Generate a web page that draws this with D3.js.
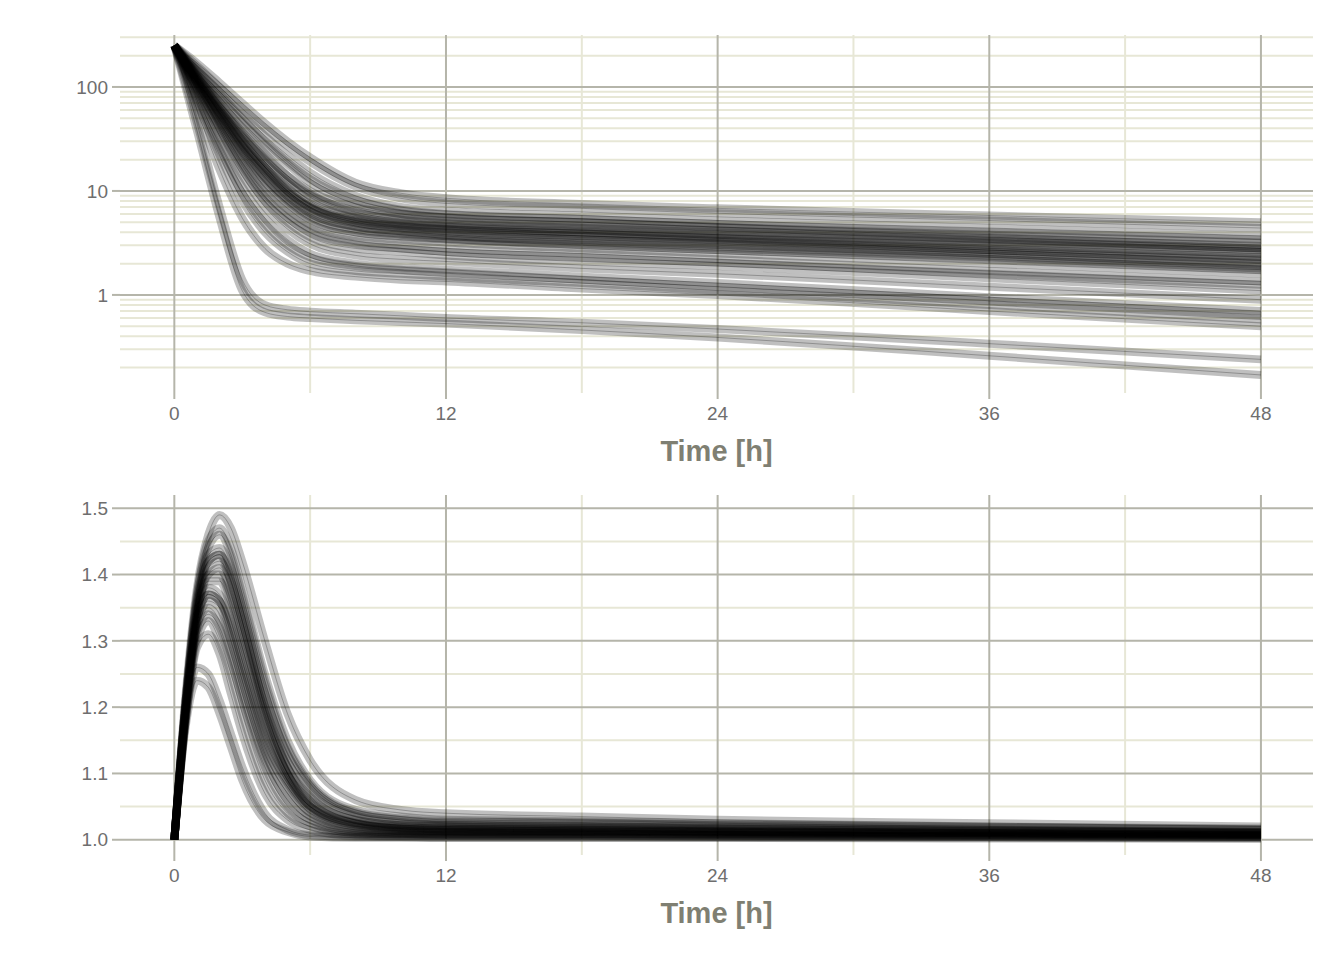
<!DOCTYPE html>
<html lang="en">
<head>
  <meta charset="UTF-8">
  <title>Time profiles</title>
  <script src="https://d3js.org/d3.v7.min.js"></script>
  <style>
    body { margin: 0; background: #fff; font-family: "Liberation Sans", Arial, sans-serif; }
    svg { display: block; }
    .tick-label { fill: #6e6e6e; font-size: 19px; }
    .axis-title { fill: #7f7f72; font-size: 29px; font-weight: bold; }
  </style>
</head>
<body>
<svg id="chart" width="1344" height="960"></svg>
<script>
  // sampling times, top panel (log scale)
  const timesTop = [0, 1, 2, 3, 4, 5, 6, 8, 10, 12, 18, 24, 36, 48];
  const concTop = [
    [250,170,110,70,45,30,21,12,9.5,8.5,7.5,6.8,5.8,5.0],
    [250,160,100,62,40,27,19,11,8.5,7.6,6.8,6.1,5.2,4.4],
    [250,150,90,55,34,22,15,9,7,6.4,5.8,5.2,4.4,3.7],
    [250,140,80,46,28,18,12,7.5,6,5.5,5,4.5,3.8,3.2],
    [250,135,72,40,23,14,9.5,6.3,5.3,4.9,4.4,4.0,3.3,2.8],
    [250,125,64,34,19,12,8,5.6,4.8,4.5,4.0,3.6,3.0,2.5],
    [250,120,60,30,17,10,7,5,4.4,4.1,3.7,3.3,2.7,2.2],
    [250,115,55,27,15,9,6.3,4.6,4.1,3.8,3.4,3.1,2.5,2.0],
    [250,110,50,24,13,8,5.6,4.2,3.8,3.5,3.1,2.8,2.3,1.8],
    [250,105,46,21,11,6.8,4.8,3.7,3.4,3.2,2.8,2.5,2.0,1.6],
    [250,100,42,19,9.5,6,4.3,3.3,3.0,2.8,2.5,2.2,1.7,1.35],
    [250,95,38,16,8,5,3.6,2.8,2.6,2.4,2.1,1.9,1.45,1.1],
    [250,90,34,14,7,4.3,3.1,2.4,2.2,2.1,1.8,1.6,1.2,0.9],
    [250,80,28,11,5.5,3.4,2.5,2.0,1.85,1.75,1.5,1.3,0.95,0.7],
    [250,70,22,8,4,2.6,2.0,1.7,1.6,1.5,1.3,1.1,0.8,0.58],
    [250,60,16,5.5,2.8,2,1.7,1.5,1.4,1.35,1.15,1.0,0.7,0.5],
    [250,130,68,37,22,14,10,7,6,5.6,5.0,4.5,3.6,2.9],
    [250,118,57,29,16,10,7,5.2,4.6,4.3,3.9,3.5,2.8,2.3],
    [250,108,48,23,12,7.5,5.3,4,3.6,3.4,3.0,2.7,2.2,1.75],
    [250,125,62,31,17,10.5,7.5,5.5,4.9,4.6,4.2,3.8,3.2,2.6],
    [250,112,52,25,13.5,8.4,6,4.5,4.0,3.7,3.3,3.0,2.4,1.9],
    [250,145,86,50,30,19,13,8.2,6.6,6.0,5.4,4.8,4.0,3.4],
    [250,38,5.5,1.1,0.68,0.62,0.6,0.57,0.55,0.53,0.46,0.39,0.26,0.17],
    [250,45,7,1.4,0.8,0.72,0.69,0.66,0.63,0.6,0.54,0.47,0.34,0.24],
    [250,75,25,9.5,4.8,3,2.3,1.9,1.75,1.65,1.4,1.2,0.88,0.64],
    [250,98,40,17.5,8.8,5.5,4,3.1,2.8,2.6,2.3,2.05,1.6,1.25],
    [250,128,66,35,20,12.5,9,6.2,5.4,5.0,4.5,4.1,3.4,2.8],
    [250,117,56,28,15.5,9.6,6.8,5.0,4.5,4.2,3.7,3.4,2.7,2.15]
  ];

  // sampling times, bottom panel (linear scale)
  const timesBottom = [0, 0.5, 1, 1.5, 2, 2.5, 3, 4, 5, 6, 8, 10, 12, 18, 24, 36, 48];
  const ratioBottom = [
    [1,1.22,1.38,1.46,1.49,1.47,1.42,1.30,1.19,1.12,1.06,1.045,1.04,1.035,1.03,1.025,1.02],
    [1,1.21,1.37,1.45,1.47,1.44,1.38,1.25,1.15,1.09,1.045,1.035,1.03,1.028,1.025,1.02,1.017],
    [1,1.21,1.36,1.43,1.44,1.41,1.35,1.22,1.13,1.08,1.04,1.03,1.027,1.025,1.022,1.018,1.015],
    [1,1.2,1.35,1.41,1.42,1.39,1.33,1.20,1.11,1.06,1.03,1.022,1.02,1.018,1.016,1.013,1.01],
    [1,1.2,1.34,1.40,1.40,1.36,1.30,1.18,1.10,1.05,1.025,1.018,1.016,1.015,1.013,1.011,1.009],
    [1,1.2,1.33,1.38,1.37,1.33,1.27,1.16,1.09,1.05,1.022,1.016,1.014,1.013,1.012,1.01,1.008],
    [1,1.19,1.32,1.36,1.35,1.30,1.24,1.13,1.07,1.035,1.015,1.011,1.01,1.009,1.008,1.007,1.006],
    [1,1.19,1.31,1.34,1.32,1.27,1.21,1.11,1.05,1.025,1.01,1.008,1.007,1.007,1.006,1.005,1.004],
    [1,1.18,1.29,1.31,1.28,1.22,1.16,1.07,1.03,1.015,1.006,1.005,1.005,1.005,1.004,1.004,1.003],
    [1,1.17,1.24,1.23,1.19,1.14,1.09,1.03,1.012,1.005,1.003,1.003,1.003,1.003,1.003,1.002,1.002],
    [1,1.18,1.26,1.25,1.21,1.16,1.11,1.04,1.015,1.007,1.004,1.004,1.003,1.003,1.003,1.003,1.002],
    [1,1.21,1.37,1.44,1.46,1.43,1.37,1.24,1.14,1.085,1.042,1.032,1.028,1.026,1.023,1.019,1.016],
    [1,1.2,1.35,1.42,1.43,1.40,1.34,1.21,1.12,1.07,1.035,1.025,1.022,1.02,1.018,1.015,1.012],
    [1,1.2,1.34,1.39,1.39,1.35,1.29,1.17,1.095,1.05,1.024,1.017,1.015,1.014,1.012,1.01,1.008],
    [1,1.19,1.33,1.37,1.36,1.31,1.25,1.14,1.08,1.04,1.018,1.013,1.012,1.011,1.01,1.008,1.007],
    [1,1.19,1.32,1.35,1.33,1.28,1.22,1.12,1.06,1.03,1.012,1.009,1.008,1.008,1.007,1.006,1.005],
    [1,1.18,1.30,1.33,1.30,1.25,1.19,1.09,1.04,1.02,1.008,1.006,1.006,1.006,1.005,1.005,1.004],
    [1,1.21,1.36,1.42,1.43,1.39,1.33,1.20,1.11,1.065,1.03,1.022,1.02,1.018,1.016,1.013,1.011],
    [1,1.2,1.34,1.40,1.41,1.37,1.31,1.19,1.10,1.055,1.026,1.019,1.017,1.016,1.014,1.012,1.01],
    [1,1.2,1.33,1.37,1.36,1.32,1.26,1.15,1.085,1.045,1.02,1.015,1.013,1.012,1.011,1.009,1.008]
  ];

  const xMajor = [0, 12, 24, 36, 48];
  const xMinor = [6, 18, 30, 42];
  const yTopMajor = [1, 10, 100];
  const yTopMinor = [0.2,0.3,0.4,0.5,0.6,0.7,0.8,0.9,2,3,4,5,6,7,8,9,20,30,40,50,60,70,80,90,200,300];
  const yBotMajor = [1.0, 1.1, 1.2, 1.3, 1.4, 1.5];
  const yBotMinor = [1.05, 1.15, 1.25, 1.35, 1.45];

  const svg = d3.select("#chart");
  const left = 120, right = 1313;
  const x = d3.scaleLinear().domain([-2.4, 50.3]).range([left, right]);

  const major = "#b5b5aa", minor = "#e7e7d6";

  function panel(y, top, bottom, majorY, minorY, fmt, times, series) {
    const g = svg.append("g");
    minorY.forEach(v => g.append("line").attr("x1", left).attr("x2", right)
      .attr("y1", y(v)).attr("y2", y(v)).attr("stroke", minor).attr("stroke-width", 2));
    xMinor.forEach(v => g.append("line").attr("x1", x(v)).attr("x2", x(v))
      .attr("y1", top).attr("y2", bottom).attr("stroke", minor).attr("stroke-width", 2));
    majorY.forEach(v => g.append("line").attr("x1", left).attr("x2", right)
      .attr("y1", y(v)).attr("y2", y(v)).attr("stroke", major).attr("stroke-width", 2));
    xMajor.forEach(v => g.append("line").attr("x1", x(v)).attr("x2", x(v))
      .attr("y1", top).attr("y2", bottom).attr("stroke", major).attr("stroke-width", 2));

    // tick marks and labels
    majorY.forEach(v => {
      g.append("line").attr("x1", left - 8).attr("x2", left).attr("y1", y(v)).attr("y2", y(v))
        .attr("stroke", major).attr("stroke-width", 2);
      g.append("text").attr("class", "tick-label").attr("x", left - 12).attr("y", y(v))
        .attr("dy", "0.35em").attr("text-anchor", "end").text(fmt(v));
    });
    xMajor.forEach(v => {
      g.append("line").attr("x1", x(v)).attr("x2", x(v)).attr("y1", bottom).attr("y2", bottom + 6)
        .attr("stroke", major).attr("stroke-width", 2);
      g.append("text").attr("class", "tick-label").attr("x", x(v)).attr("y", bottom + 27)
        .attr("text-anchor", "middle").text(v);
    });
    g.append("text").attr("class", "axis-title").attr("x", (left + right) / 2).attr("y", bottom + 68)
      .attr("text-anchor", "middle").text("Time [h]");

    const line = d3.line().x((d, i) => x(times[i])).y(d => y(d)).curve(d3.curveMonotoneX);
    const lines = g.append("g");
    series.forEach(s => {
      lines.append("path").attr("d", line(s)).attr("fill", "none")
        .attr("stroke", "#000").attr("stroke-opacity", 0.25).attr("stroke-width", 8)
        .attr("stroke-linejoin", "round");
    });
    series.forEach(s => {
      lines.append("path").attr("d", line(s)).attr("fill", "none")
        .attr("stroke", "#000").attr("stroke-opacity", 0.25).attr("stroke-width", 1);
    });
  }

  const yTop = d3.scaleLog().domain([0.114, 316]).range([393, 35]);
  panel(yTop, 35, 393, yTopMajor, yTopMinor, d3.format("d"), timesTop, concTop);

  const yBot = d3.scaleLinear().domain([0.977, 1.52]).range([855, 495]);
  panel(yBot, 495, 855, yBotMajor, yBotMinor, d3.format(".1f"), timesBottom, ratioBottom);
</script>
</body>
</html>
